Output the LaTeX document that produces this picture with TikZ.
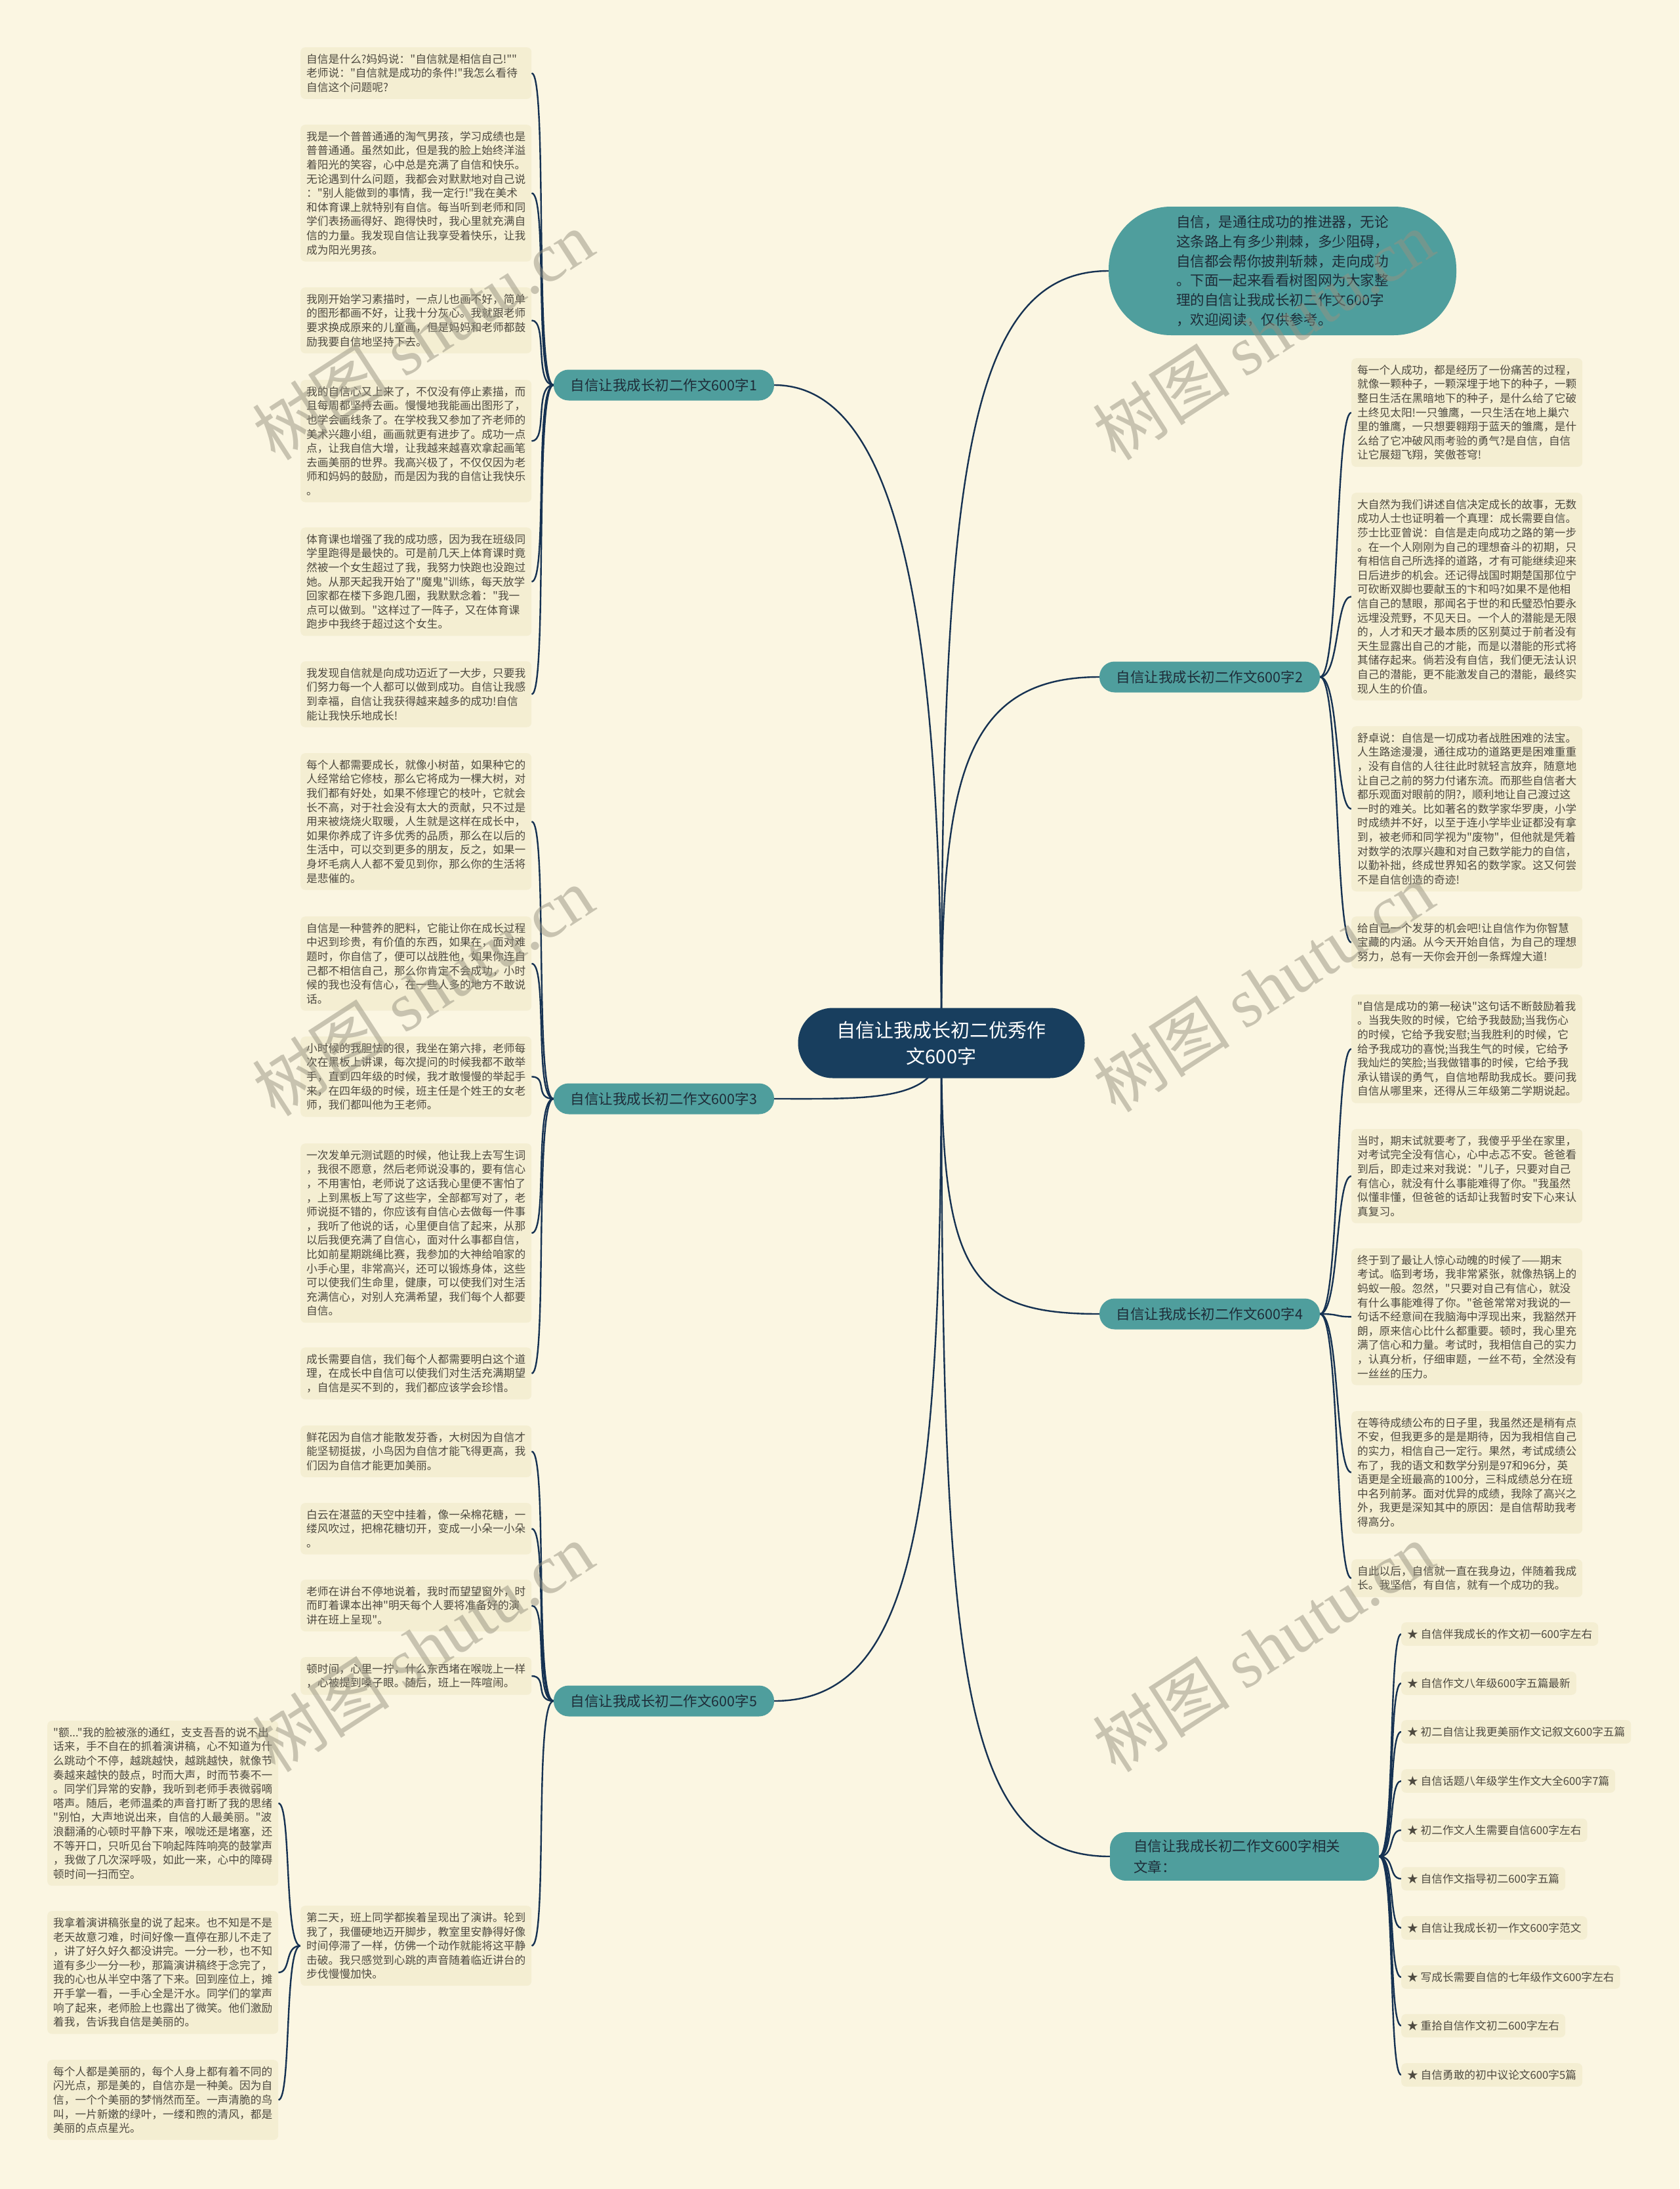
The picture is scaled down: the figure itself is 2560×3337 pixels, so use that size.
\documentclass[tikz,border=0pt]{standalone}
\usepackage{fontspec}
\setmainfont{Noto Sans CJK SC}
\newfontfamily\cjkf{Noto Sans CJK SC}
\newfontfamily\wmlat{Liberation Serif}
\usetikzlibrary{backgrounds}
\definecolor{bg}{RGB}{251,246,226}
\definecolor{leafc}{RGB}{244,238,210}
\definecolor{txt}{RGB}{78,74,64}
\definecolor{tealc}{RGB}{79,158,157}
\definecolor{btxt}{RGB}{30,44,56}
\definecolor{navy}{RGB}{24,62,94}
\definecolor{linec}{RGB}{22,50,82}
\definecolor{wm}{RGB}{150,146,128}
\newcommand\leaffont{\cjkf\fontsize{16.7}{21.6}\selectfont}
\newcommand\brfont{\cjkf\fontsize{21.5}{32}\selectfont}
\newcommand\ctrfont{\cjkf\fontsize{29}{40}\selectfont}
\newcommand\cofont{\cjkf\fontsize{21.6}{29.8}\selectfont}
\newcommand\wmfont{\cjkf\fontsize{105}{105}\selectfont}
\tikzset{
  conn/.style={draw=linec, line width=2.4pt},
  leaf/.style={fill=leafc, rounded corners=7pt, text width=334pt, inner xsep=9pt, inner ysep=10pt, align=left, font=\leaffont, text=txt, anchor=north west},
  itembox/.style={fill=leafc, rounded corners=7pt, inner xsep=9pt, inner ysep=10pt, font=\leaffont, text=txt, anchor=west},
  branch/.style={fill=tealc, rounded corners=23pt, minimum width=336pt, minimum height=47pt, inner sep=0pt, font=\brfont, text=btxt},
  wmark/.style={text=wm, opacity=0.5, rotate=33, font=\wmfont},
}
\begin{document}
\begin{tikzpicture}[x=1pt,y=-1pt]
\begin{scope}[on background layer]
\fill[bg] (0,0) rectangle (2560,3337);
\end{scope}
\path[use as bounding box] (0,0) rectangle (2560,3337);

% center
\node[fill=navy, rounded corners=53pt, minimum width=437pt, minimum height=107pt, text=white, font=\ctrfont, align=center] (c) at (1435,1590) {自信让我成长初二优秀作\\文600字};

% callout
\node[fill=tealc, rounded corners=95pt, minimum width=530pt, minimum height=196pt, text=btxt, font=\cofont, align=left] (co) at (1955,413) {自信，是通往成功的推进器，无论\\这条路上有多少荆棘，多少阻碍，\\自信都会帮你披荆斩棘，走向成功\\。下面一起来看看树图网为大家整\\理的自信让我成长初二作文600字\\，欢迎阅读，仅供参考。};

% branches
\node[branch] (b1) at (1012,587) {自信让我成长初二作文600字1};
\node[branch] (b2) at (1844,1032) {自信让我成长初二作文600字2};
\node[branch] (b3) at (1012,1675) {自信让我成长初二作文600字3};
\node[branch] (b4) at (1844,2003) {自信让我成长初二作文600字4};
\node[branch] (b5) at (1012,2593) {自信让我成长初二作文600字5};
\node[fill=tealc, rounded corners=24pt, text width=338pt, inner xsep=36pt, inner ysep=11pt, font=\brfont, text=btxt, align=left] (b6) at (1897,2830) {自信让我成长初二作文600字相关\\文章：};

% branch 1 leaves
\node[leaf] (l1a) at (458,72) {自信是什么?妈妈说："自信就是相信自己!""\\老师说："自信就是成功的条件!"我怎么看待\\自信这个问题呢?};
\node[leaf] (l1b) at (458,190) {我是一个普普通通的淘气男孩，学习成绩也是\\普普通通。虽然如此，但是我的脸上始终洋溢\\着阳光的笑容，心中总是充满了自信和快乐。\\无论遇到什么问题，我都会对默默地对自己说\\："别人能做到的事情，我一定行!"我在美术\\和体育课上就特别有自信。每当听到老师和同\\学们表扬画得好、跑得快时，我心里就充满自\\信的力量。我发现自信让我享受着快乐，让我\\成为阳光男孩。};
\node[leaf] (l1c) at (458,438) {我刚开始学习素描时，一点儿也画不好，简单\\的图形都画不好，让我十分灰心。我就跟老师\\要求换成原来的儿童画，但是妈妈和老师都鼓\\励我要自信地坚持下去。};
\node[leaf] (l1d) at (458,579) {我的自信心又上来了，不仅没有停止素描，而\\且每周都坚持去画。慢慢地我能画出图形了，\\也学会画线条了。在学校我又参加了齐老师的\\美术兴趣小组，画画就更有进步了。成功一点\\点，让我自信大增，让我越来越喜欢拿起画笔\\去画美丽的世界。我高兴极了，不仅仅因为老\\师和妈妈的鼓励，而是因为我的自信让我快乐\\。};
\node[leaf] (l1e) at (458,804) {体育课也增强了我的成功感，因为我在班级同\\学里跑得是最快的。可是前几天上体育课时竟\\然被一个女生超过了我，我努力快跑也没跑过\\她。从那天起我开始了"魔鬼"训练，每天放学\\回家都在楼下多跑几圈，我默默念着："我一\\点可以做到。"这样过了一阵子，又在体育课\\跑步中我终于超过这个女生。};
\node[leaf] (l1f) at (458,1008) {我发现自信就是向成功迈近了一大步，只要我\\们努力每一个人都可以做到成功。自信让我感\\到幸福，自信让我获得越来越多的成功!自信\\能让我快乐地成长!};

% branch 3 leaves
\node[leaf] (l3a) at (458,1148) {每个人都需要成长，就像小树苗，如果种它的\\人经常给它修枝，那么它将成为一棵大树，对\\我们都有好处，如果不修理它的枝叶，它就会\\长不高，对于社会没有太大的贡献，只不过是\\用来被烧烧火取暖，人生就是这样在成长中，\\如果你养成了许多优秀的品质，那么在以后的\\生活中，可以交到更多的朋友，反之，如果一\\身坏毛病人人都不爱见到你，那么你的生活将\\是悲催的。};
\node[leaf] (l3b) at (458,1397) {自信是一种营养的肥料，它能让你在成长过程\\中迟到珍贵，有价值的东西，如果在，面对难\\题时，你自信了，便可以战胜他，如果你连自\\己都不相信自己，那么你肯定不会成功，小时\\候的我也没有信心，在一些人多的地方不敢说\\话。};
\node[leaf] (l3c) at (458,1580) {小时候的我胆怯的很，我坐在第六排，老师每\\次在黑板上讲课，每次提问的时候我都不敢举\\手，直到四年级的时候，我才敢慢慢的举起手\\来，在四年级的时候，班主任是个姓王的女老\\师，我们都叫他为王老师。};
\node[leaf] (l3d) at (458,1743) {一次发单元测试题的时候，他让我上去写生词\\，我很不愿意，然后老师说没事的，要有信心\\，不用害怕，老师说了这话我心里便不害怕了\\，上到黑板上写了这些字，全部都写对了，老\\师说挺不错的，你应该有自信心去做每一件事\\，我听了他说的话，心里便自信了起来，从那\\以后我便充满了自信心，面对什么事都自信，\\比如前星期跳绳比赛，我参加的大神给咱家的\\小手心里，非常高兴，还可以锻炼身体，这些\\可以使我们生命里，健康，可以使我们对生活\\充满信心，对别人充满希望，我们每个人都要\\自信。};
\node[leaf] (l3e) at (458,2054) {成长需要自信，我们每个人都需要明白这个道\\理，在成长中自信可以使我们对生活充满期望\\，自信是买不到的，我们都应该学会珍惜。};

% branch 5 leaves
\node[leaf] (l5a) at (458,2173) {鲜花因为自信才能散发芬香，大树因为自信才\\能坚韧挺拔，小鸟因为自信才能飞得更高，我\\们因为自信才能更加美丽。};
\node[leaf] (l5b) at (458,2291) {白云在湛蓝的天空中挂着，像一朵棉花糖，一\\缕风吹过，把棉花糖切开，变成一小朵一小朵\\。};
\node[leaf] (l5c) at (458,2408) {老师在讲台不停地说着，我时而望望窗外，时\\而盯着课本出神"明天每个人要将准备好的演\\讲在班上呈现"。};
\node[leaf] (l5d) at (458,2526) {顿时间，心里一拧，什么东西堵在喉咙上一样\\，心被提到嗓子眼。随后，班上一阵喧闹。};
\node[leaf] (l5e) at (458,2905) {第二天，班上同学都挨着呈现出了演讲。轮到\\我了，我僵硬地迈开脚步，教室里安静得好像\\时间停滞了一样，仿佛一个动作就能将这平静\\击破。我只感觉到心跳的声音随着临近讲台的\\步伐慢慢加快。};

% far-left leaves
\node[leaf] (fa) at (72,2623) {"额..."我的脸被涨的通红，支支吾吾的说不出\\话来，手不自在的抓着演讲稿，心不知道为什\\么跳动个不停，越跳越快，越跳越快，就像节\\奏越来越快的鼓点，时而大声，时而节奏不一\\。同学们异常的安静，我听到老师手表微弱嘀\\嗒声。随后，老师温柔的声音打断了我的思绪\\"别怕，大声地说出来，自信的人最美丽。"波\\浪翻涌的心顿时平静下来，喉咙还是堵塞，还\\不等开口，只听见台下响起阵阵响亮的鼓掌声\\，我做了几次深呼吸，如此一来，心中的障碍\\顿时间一扫而空。};
\node[leaf] (fb) at (72,2913) {我拿着演讲稿张皇的说了起来。也不知是不是\\老天故意刁难，时间好像一直停在那儿不走了\\，讲了好久好久都没讲完。一分一秒，也不知\\道有多少一分一秒，那篇演讲稿终于念完了，\\我的心也从半空中落了下来。回到座位上，摊\\开手掌一看，一手心全是汗水。同学们的掌声\\响了起来，老师脸上也露出了微笑。他们激励\\着我，告诉我自信是美丽的。};
\node[leaf] (fc) at (72,3140) {每个人都是美丽的，每个人身上都有着不同的\\闪光点，那是美的，自信亦是一种美。因为自\\信，一个个美丽的梦悄然而至。一声清脆的鸟\\叫，一片新嫩的绿叶，一缕和煦的清风，都是\\美丽的点点星光。};

% branch 2 leaves
\node[leaf] (r2a) at (2060,546) {每一个人成功，都是经历了一份痛苦的过程，\\就像一颗种子，一颗深埋于地下的种子，一颗\\整日生活在黑暗地下的种子，是什么给了它破\\土终见太阳!一只雏鹰，一只生活在地上巢穴\\里的雏鹰，一只想要翱翔于蓝天的雏鹰，是什\\么给了它冲破风雨考验的勇气?是自信，自信\\让它展翅飞翔，笑傲苍穹!};
\node[leaf] (r2b) at (2060,751) {大自然为我们讲述自信决定成长的故事，无数\\成功人士也证明着一个真理：成长需要自信。\\莎士比亚曾说：自信是走向成功之路的第一步\\。在一个人刚刚为自己的理想奋斗的初期，只\\有相信自己所选择的道路，才有可能继续迎来\\日后进步的机会。还记得战国时期楚国那位宁\\可砍断双脚也要献玉的卞和吗?如果不是他相\\信自己的慧眼，那闻名于世的和氏璧恐怕要永\\远埋没荒野，不见天日。一个人的潜能是无限\\的，人才和天才最本质的区别莫过于前者没有\\天生显露出自己的才能，而是以潜能的形式将\\其储存起来。倘若没有自信，我们便无法认识\\自己的潜能，更不能激发自己的潜能，最终实\\现人生的价值。};
\node[leaf] (r2c) at (2060,1107) {舒卓说：自信是一切成功者战胜困难的法宝。\\人生路途漫漫，通往成功的道路更是困难重重\\，没有自信的人往往此时就轻言放弃，随意地\\让自己之前的努力付诸东流。而那些自信者大\\都乐观面对眼前的阴?，顺利地让自己渡过这\\一时的难关。比如著名的数学家华罗庚，小学\\时成绩并不好，以至于连小学毕业证都没有拿\\到，被老师和同学视为"废物"，但他就是凭着\\对数学的浓厚兴趣和对自己数学能力的自信，\\以勤补拙，终成世界知名的数学家。这又何尝\\不是自信创造的奇迹!};
\node[leaf] (r2d) at (2060,1397) {给自己一个发芽的机会吧!让自信作为你智慧\\宝藏的内涵。从今天开始自信，为自己的理想\\努力，总有一天你会开创一条辉煌大道!};

% branch 4 leaves
\node[leaf] (r4a) at (2060,1516) {"自信是成功的第一秘诀"这句话不断鼓励着我\\。当我失败的时候，它给予我鼓励;当我伤心\\的时候，它给予我安慰;当我胜利的时候，它\\给予我成功的喜悦;当我生气的时候，它给予\\我灿烂的笑脸;当我做错事的时候，它给予我\\承认错误的勇气，自信地帮助我成长。要问我\\自信从哪里来，还得从三年级第二学期说起。};
\node[leaf] (r4b) at (2060,1721) {当时，期末试就要考了，我傻乎乎坐在家里，\\对考试完全没有信心，心中忐忑不安。爸爸看\\到后，即走过来对我说："儿子，只要对自己\\有信心，就没有什么事能难得了你。"我虽然\\似懂非懂，但爸爸的话却让我暂时安下心来认\\真复习。};
\node[leaf] (r4c) at (2060,1903) {终于到了最让人惊心动魄的时候了——期末\\考试。临到考场，我非常紧张，就像热锅上的\\蚂蚁一般。忽然，"只要对自己有信心，就没\\有什么事能难得了你。"爸爸常常对我说的一\\句话不经意间在我脑海中浮现出来，我豁然开\\朗，原来信心比什么都重要。顿时，我心里充\\满了信心和力量。考试时，我相信自己的实力\\，认真分析，仔细审题，一丝不苟，全然没有\\一丝丝的压力。};
\node[leaf] (r4d) at (2060,2151) {在等待成绩公布的日子里，我虽然还是稍有点\\不安，但我更多的是是期待，因为我相信自己\\的实力，相信自己一定行。果然，考试成绩公\\布了，我的语文和数学分别是97和96分，英\\语更是全班最高的100分，三科成绩总分在班\\中名列前茅。面对优异的成绩，我除了高兴之\\外，我更是深知其中的原因：是自信帮助我考\\得高分。};
\node[leaf] (r4e) at (2060,2377) {自此以后，自信就一直在我身边，伴随着我成\\长。我坚信，有自信，就有一个成功的我。};

% related items
\node[itembox] (i1) at (2136,2491) {★ 自信伴我成长的作文初一600字左右};
\node[itembox] (i2) at (2136,2566) {★ 自信作文八年级600字五篇最新};
\node[itembox] (i3) at (2136,2640) {★ 初二自信让我更美丽作文记叙文600字五篇};
\node[itembox] (i4) at (2136,2715) {★ 自信话题八年级学生作文大全600字7篇};
\node[itembox] (i5) at (2136,2790) {★ 初二作文人生需要自信600字左右};
\node[itembox] (i6) at (2136,2864) {★ 自信作文指导初二600字五篇};
\node[itembox] (i7) at (2136,2939) {★ 自信让我成长初一作文600字范文};
\node[itembox] (i8) at (2136,3014) {★ 写成长需要自信的七年级作文600字左右};
\node[itembox] (i9) at (2136,3088) {★ 重拾自信作文初二600字左右};
\node[itembox] (i10) at (2136,3163) {★ 自信勇敢的初中议论文600字5篇};

% connectors
\begin{scope}[on background layer]
\draw[conn] (c.center) .. controls +(0,-600) and +(200,0) .. (b1.east);
\draw[conn] (c.center) .. controls +(0,-850) and +(-220,0) .. (co.west);
\draw[conn] (c.center) .. controls +(0,-380) and +(-220,0) .. (b2.west);
\draw[conn] (c.center) .. controls +(0,90) and +(150,0) .. (b3.east);
\draw[conn] (c.center) .. controls +(0,350) and +(-200,0) .. (b4.west);
\draw[conn] (c.center) .. controls +(0,700) and +(220,0) .. (b5.east);
\draw[conn] (c.center) .. controls +(0,950) and +(-230,0) .. (b6.west);
\foreach \l in {l1a,l1b,l1c,l1d,l1e,l1f}
  \draw[conn] (b1.west) .. controls +(-30,0) and +(25,0) .. (\l.east);
\foreach \l in {l3a,l3b,l3c,l3d,l3e}
  \draw[conn] (b3.west) .. controls +(-30,0) and +(25,0) .. (\l.east);
\foreach \l in {l5a,l5b,l5c,l5d,l5e}
  \draw[conn] (b5.west) .. controls +(-30,0) and +(25,0) .. (\l.east);
\foreach \l in {fa,fb,fc}
  \draw[conn] (l5e.west) .. controls +(-25,0) and +(20,0) .. (\l.east);
\foreach \l in {r2a,r2b,r2c,r2d}
  \draw[conn] (b2.east) .. controls +(30,0) and +(-25,0) .. (\l.west);
\foreach \l in {r4a,r4b,r4c,r4d,r4e}
  \draw[conn] (b4.east) .. controls +(30,0) and +(-25,0) .. (\l.west);
\foreach \l in {i1,i2,i3,i4,i5,i6,i7,i8,i9,i10}
  \draw[conn] (b6.east) .. controls +(25,0) and +(-20,0) .. (\l.west);
\end{scope}

% watermarks
\node[wmark] (w1) at (645,511) {树图 {\wmlat shutu.cn}};
\node[wmark] (w2) at (1926,511) {树图 {\wmlat shutu.cn}};
\node[wmark] (w3) at (645,1511) {树图 {\wmlat shutu.cn}};
\node[wmark] (w4) at (1926,1505) {树图 {\wmlat shutu.cn}};
\node[wmark] (w5) at (645,2511) {树图 {\wmlat shutu.cn}};
\node[wmark] (w6) at (1926,2511) {树图 {\wmlat shutu.cn}};
\end{tikzpicture}
\end{document}
